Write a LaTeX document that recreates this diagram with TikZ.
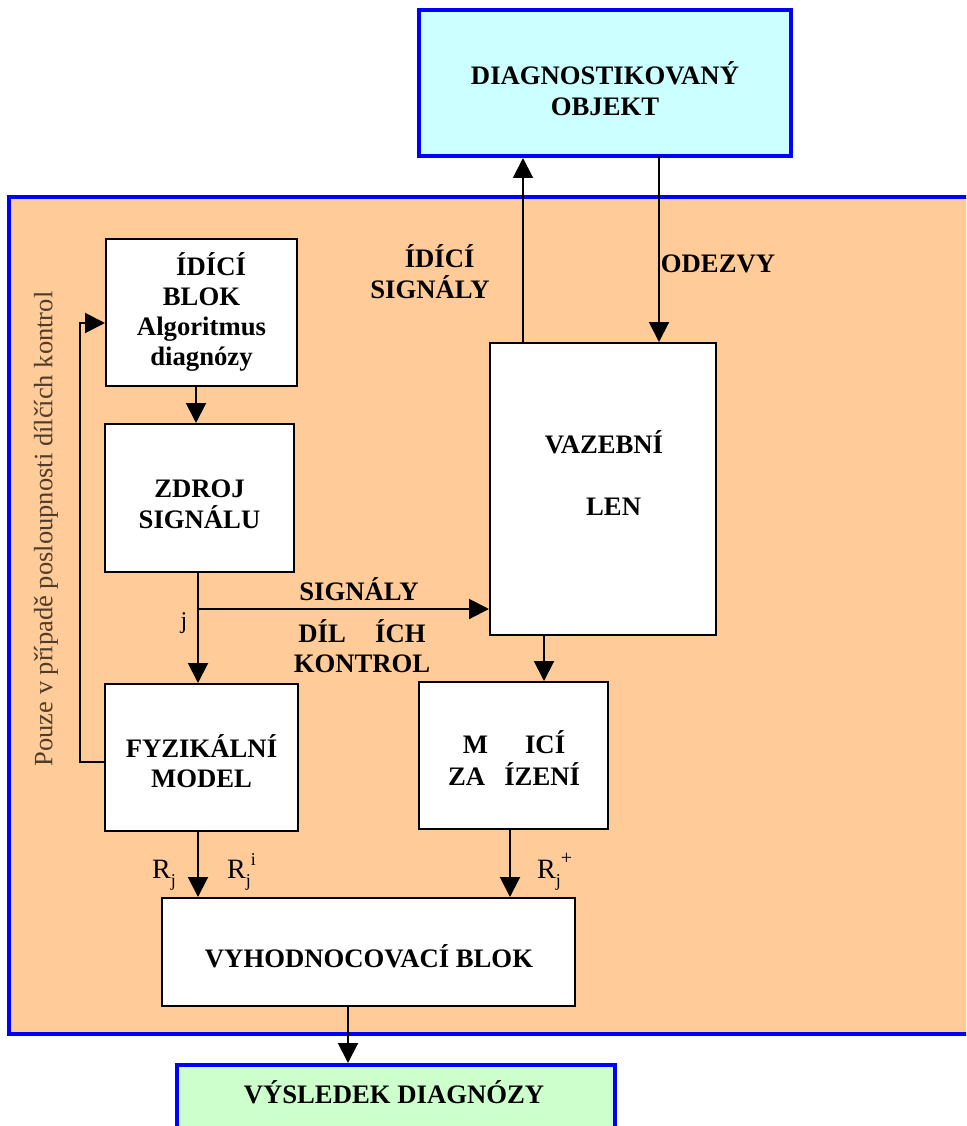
\documentclass[tikz,border=0pt]{standalone}
\usepackage{fontspec}
\setmainfont{Liberation Serif}
\usetikzlibrary{arrows.meta}
\definecolor{orangebg}{HTML}{FFCC99}
\definecolor{cyanbg}{HTML}{CCFFFF}
\definecolor{greenbg}{HTML}{CCFFCC}
\definecolor{bluebd}{HTML}{0000FF}
\definecolor{sidetext}{RGB}{80,60,40}
\newcommand{\Rsub}{R\raisebox{-0.3em}{\fontsize{18}{18}\selectfont j}}
\begin{document}
\begin{tikzpicture}[x=1pt,y=-1pt,
  box/.style={draw=black, line width=2pt, fill=white, inner sep=0pt},
  bluebox/.style={draw=bluebd, line width=4pt, inner sep=0pt},
  lbl/.style={align=center, font=\fontsize{26.7}{31}\selectfont\bfseries, inner sep=0pt, anchor=base},
  rlbl/.style={font=\fontsize{28}{30}\selectfont, inner sep=0pt, anchor=base west},
  conn/.style={line width=2pt, -{Triangle[length=20pt,width=20pt]}},
]
\useasboundingbox (0,0) rectangle (966,1126);
\clip (0,0) rectangle (966,1126);

% frame
\node[draw=bluebd, line width=4pt, fill=orangebg, inner sep=0pt,
  minimum width=981pt, minimum height=837pt] (frame) at (499.5,615.5) {};

% external boxes
\node[bluebox, fill=cyanbg, minimum width=372pt, minimum height=146pt] (obj) at (605,83) {};
\node[lbl] (objtext) at (605,116) {DIAGNOSTIKOVANÝ\\OBJEKT};
\node[bluebox, fill=greenbg, minimum width=438pt, minimum height=95pt] (res) at (396,1112.5) {};
\node[lbl] (restext) at (394,1103) {VÝSLEDEK DIAGNÓZY};

% inner boxes
\node[box, minimum width=191pt, minimum height=147pt] (ridici) at (201.5,312.5) {};
\node[lbl, font=\fontsize{26.7}{30}\selectfont\bfseries] (riditext) at (201.5,365)
  {\hspace*{0.72em}ÍDÍCÍ\\BLOK\\Algoritmus\\diagnózy};
\node[box, minimum width=189pt, minimum height=148pt] (zdroj) at (199.5,498) {};
\node[lbl] (zdrojtext) at (199.5,528) {ZDROJ\\SIGNÁLU};
\node[box, minimum width=193pt, minimum height=147pt] (fyz) at (201.5,757.5) {};
\node[lbl, font=\fontsize{26.7}{30}\selectfont\bfseries] (fyztext) at (201.5,787) {FYZIKÁLNÍ\\MODEL};
\node[box, minimum width=226pt, minimum height=292pt] (vaz) at (603,489) {};
\node[lbl] (vaztext) at (604,515) {VAZEBNÍ\\[31pt]\hspace*{0.72em}LEN};
\node[box, minimum width=189pt, minimum height=147pt] (mer) at (513.5,755.5) {};
\node[lbl, font=\fontsize{26.7}{32}\selectfont\bfseries] (mertext) at (514,785) {M\hspace{1.39em}ICÍ\\ZA\hspace{0.72em}ÍZENÍ};
\node[box, minimum width=413pt, minimum height=108pt] (vyh) at (368.5,952) {};
\node[lbl] (vyhtext) at (369,967) {VYHODNOCOVACÍ BLOK};

% labels
\node[lbl] (ridsig) at (430,298) {\hspace*{0.72em}ÍDÍCÍ\\SIGNÁLY};
\node[lbl] (odezvy) at (718,272) {ODEZVY};
\node[lbl] (signaly) at (359,600) {SIGNÁLY};
\node[lbl, font=\fontsize{26.7}{30}\selectfont\bfseries] (dilcich) at (362,672) {DÍL\hspace{1.1em}ÍCH\\KONTROL};
\node[font=\fontsize{24}{26}\selectfont, inner sep=0pt, anchor=base] (jlbl) at (184,628) {j};
\node[rlbl] (rj) at (152,878) {\Rsub};
\node[rlbl] (rji) at (227,878) {\Rsub\raisebox{0.45em}{\fontsize{18}{18}\selectfont i}};
\node[rlbl] (rjp) at (537,878) {\Rsub\raisebox{0.5em}{\fontsize{20}{20}\selectfont +}};
\node[rotate=90, font=\fontsize{26.5}{30}\selectfont, text=sidetext, inner sep=0pt] (side) at (46,529)
  {Pouze v případě posloupnosti dílčích kontrol};

% connectors
\coordinate (br) at (198,609);
\coordinate (up) at (523,343);
\coordinate (dn) at (659,156);
\coordinate (vm) at (544,635);
\coordinate (vr) at (348,1006);
\coordinate (fb1) at (80,762);
\coordinate (fb2) at (80,323);

\draw[conn] (ridici.south -| 196,0) -- (zdroj.north -| 196,0);
\draw[conn] (zdroj.south -| br) -- (fyz.north -| br);
\draw[conn] (br) -- (br -| vaz.west);
\draw[conn] (up) -- (up |- obj.south);
\draw[conn] (dn) -- (dn |- vaz.north);
\draw[conn] (vm) -- (vm |- mer.north);
\draw[conn] (fyz.south -| br) -- (vyh.north -| br);
\draw[conn] (mer.south -| 510,0) -- (vyh.north -| 510,0);
\draw[conn] (vr) -- (vr |- res.north);
\draw[conn] (fyz.west |- fb1) -- (fb1) -- (fb2) -- (fb2 -| ridici.west);
\end{tikzpicture}
\end{document}
